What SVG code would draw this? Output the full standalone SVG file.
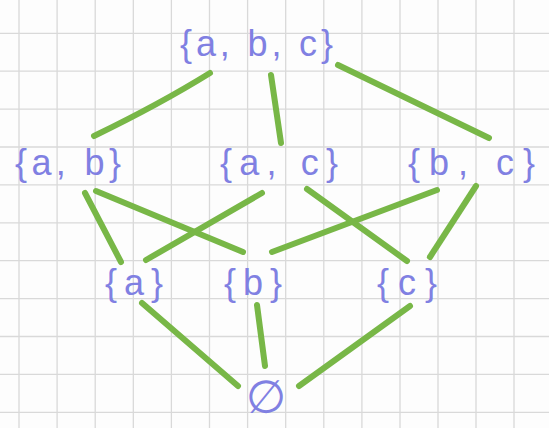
<svg xmlns="http://www.w3.org/2000/svg" width="549" height="428" viewBox="0 0 549 428">
<style>
.grid line{stroke:#d9d9d9;stroke-width:1.3}
.edge{stroke:#78b747;stroke-width:6;stroke-linecap:round;fill:none}
.lbl{font-family:"Liberation Sans","DejaVu Sans",sans-serif;font-size:36px;fill:#8080e2}
</style>
<rect width="549" height="428" fill="#fdfdfd"/>
<g class="grid">
<line x1="19" y1="0" x2="19" y2="428"/>
<line x1="57.1" y1="0" x2="57.1" y2="428"/>
<line x1="95.2" y1="0" x2="95.2" y2="428"/>
<line x1="133.3" y1="0" x2="133.3" y2="428"/>
<line x1="171.4" y1="0" x2="171.4" y2="428"/>
<line x1="209.5" y1="0" x2="209.5" y2="428"/>
<line x1="247.6" y1="0" x2="247.6" y2="428"/>
<line x1="285.7" y1="0" x2="285.7" y2="428"/>
<line x1="323.8" y1="0" x2="323.8" y2="428"/>
<line x1="361.9" y1="0" x2="361.9" y2="428"/>
<line x1="400" y1="0" x2="400" y2="428"/>
<line x1="438" y1="0" x2="438" y2="428"/>
<line x1="476" y1="0" x2="476" y2="428"/>
<line x1="514" y1="0" x2="514" y2="428"/>
<line x1="0" y1="33.3" x2="549" y2="33.3"/>
<line x1="0" y1="71.2" x2="549" y2="71.2"/>
<line x1="0" y1="109.1" x2="549" y2="109.1"/>
<line x1="0" y1="147" x2="549" y2="147"/>
<line x1="0" y1="184.9" x2="549" y2="184.9"/>
<line x1="0" y1="222.8" x2="549" y2="222.8"/>
<line x1="0" y1="260.7" x2="549" y2="260.7"/>
<line x1="0" y1="298.6" x2="549" y2="298.6"/>
<line x1="0" y1="336.5" x2="549" y2="336.5"/>
<line x1="0" y1="374.4" x2="549" y2="374.4"/>
<line x1="0" y1="412.3" x2="549" y2="412.3"/>
</g>
<g id="connectors">
<path class="edge" d="M210,73 Q160,104 94,136"/>
<line class="edge" x1="271" y1="75" x2="281" y2="143"/>
<line class="edge" x1="338" y1="65" x2="489" y2="138"/>
<line class="edge" x1="85" y1="193" x2="121" y2="262"/>
<line class="edge" x1="96" y1="191" x2="243" y2="252"/>
<line class="edge" x1="262" y1="193" x2="146" y2="260"/>
<line class="edge" x1="307" y1="189" x2="407" y2="261"/>
<line class="edge" x1="437" y1="190" x2="272" y2="252"/>
<line class="edge" x1="476" y1="186" x2="430" y2="257"/>
<line class="edge" x1="142" y1="303" x2="238" y2="386"/>
<line class="edge" x1="257" y1="305" x2="265" y2="366"/>
<line class="edge" x1="410" y1="306" x2="299" y2="386"/>
</g>
<g id="n-abc"><text class="lbl" x="180" y="56" textLength="153" lengthAdjust="spacing">{a, b, c}</text></g>
<g id="n-ab"><text class="lbl" x="15" y="175" textLength="106" lengthAdjust="spacing">{a, b}</text></g>
<g id="n-ac"><text class="lbl" x="220" y="175" textLength="118" lengthAdjust="spacing">{a, c}</text></g>
<g id="n-bc"><text class="lbl" x="408" y="175" textLength="127" lengthAdjust="spacing">{b, c}</text></g>
<g id="n-a"><text class="lbl" x="105" y="295" textLength="58" lengthAdjust="spacing">{a}</text></g>
<g id="n-b"><text class="lbl" x="224" y="295" textLength="58" lengthAdjust="spacing">{b}</text></g>
<g id="n-c"><text class="lbl" x="377" y="295" textLength="60" lengthAdjust="spacing">{c}</text></g>
<g id="n-empty"><text class="lbl" x="266" y="413" text-anchor="middle" style="font-size:46px">∅</text></g>
</svg>
